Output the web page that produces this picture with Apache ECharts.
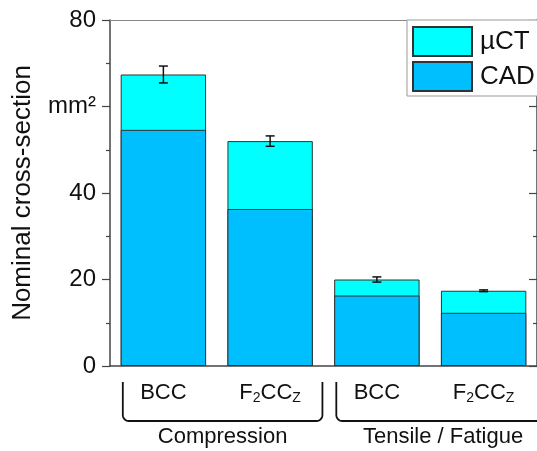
<!DOCTYPE html>
<html>
<head>
<meta charset="utf-8">
<script src="https://cdn.jsdelivr.net/npm/echarts@6/dist/echarts.min.js"></script>
<style>
  html, body { margin: 0; padding: 0; background: #fff; }
  #chart { width: 537px; height: 451px; }
</style>
</head>
<body>
<div id="chart"></div>
<script>
// Lattice types (x categories) and test groups
const categories = ['BCC', 'F2CCZ', 'BCC', 'F2CCZ'];
const groups = ['Compression', 'Tensile / Fatigue'];
// Nominal cross-section, mm²
const cadValues = [54.6, 36.3, 16.3, 12.3];
const uctValues = [67.4, 52.0, 20.0, 17.4];
const uctErrors = [1.95, 1.2, 0.6, 0.2];
// y ticks: the 60 position carries the unit
const yTicks = [0, 20, 40, 60, 80];
const yTickText = ['0', '20', '40', 'mm²', '80'];

const FONT = '"Liberation Sans", Arial, sans-serif';
const AXIS = '#444';

const chart = echarts.init(document.getElementById('chart'));

function catLabel(v) {
  if (v === 'F2CCZ') return '{n|F}{s|2}{n|CC}{s|Z}';
  return '{n|' + v + '}';
}

const labelRich = {
  n: { fontSize: 22, fontFamily: FONT, color: '#111', lineHeight: 26 },
  s: { fontSize: 14, fontFamily: FONT, color: '#111', lineHeight: 26, padding: [10, 0, 0, 0] }
};

const option = {
  animation: false,
  backgroundColor: '#fff',
  grid: { left: 110, top: 20, right: -4, bottom: 85, containLabel: false },
  legend: {
    orient: 'vertical',
    left: 407,
    top: 20,
    data: ['µCT', 'CAD'],
    icon: 'rect',
    itemWidth: 59,
    itemHeight: 29,
    itemGap: 4,
    padding: [6, 20, 4, 5],
    backgroundColor: '#fff',
    borderColor: '#999',
    borderWidth: 1,
    borderRadius: 0,
    textStyle: { fontSize: 26, fontFamily: FONT, color: '#111', padding: [0, 0, 0, 3] }
  },
  xAxis: [
    {
      type: 'category', data: categories, position: 'bottom',
      axisLine: { lineStyle: { color: AXIS, width: 1.5 } },
      axisTick: { alignWithLabel: true, length: 6, lineStyle: { color: AXIS, width: 1.2 } },
      axisLabel: { margin: 14, interval: 0, hideOverlap: false, formatter: catLabel, rich: labelRich },
      splitLine: { show: false }
    },
    {
      type: 'category', data: categories, position: 'bottom',
      axisLine: { show: false },
      axisTick: { length: 4, lineStyle: { color: AXIS, width: 1.2 } },
      axisLabel: { show: false }
    },
    {
      type: 'category', data: categories, position: 'top',
      axisLine: { lineStyle: { color: '#888', width: 1.2 } },
      axisTick: { alignWithLabel: true, inside: true, length: 6, lineStyle: { color: AXIS, width: 1.2 } },
      axisLabel: { show: false }
    }
  ],
  yAxis: [
    {
      type: 'value', min: 0, max: 80, interval: 20, position: 'left',
      name: 'Nominal cross-section', nameLocation: 'middle', nameGap: 74,
      nameTextStyle: { fontSize: 26, fontFamily: FONT, color: '#111' },
      axisLine: { show: true, lineStyle: { color: AXIS, width: 1.5 } },
      axisTick: { show: true, length: 8, lineStyle: { color: AXIS, width: 1.2 } },
      minorTick: { show: true, splitNumber: 2, length: 4, lineStyle: { color: AXIS, width: 1.2 } },
      axisLabel: {
        margin: 14, fontSize: 24, fontFamily: FONT, color: '#111',
        formatter: v => yTickText[yTicks.indexOf(v)] ?? String(v)
      },
      splitLine: { show: false }
    },
    {
      type: 'value', min: 0, max: 80, interval: 20, position: 'right',
      axisLine: { show: true, lineStyle: { color: AXIS, width: 1.5 } },
      axisTick: { show: true, inside: true, length: 8, lineStyle: { color: AXIS, width: 1.2 } },
      minorTick: { show: true, splitNumber: 2, length: 4, lineStyle: { color: AXIS, width: 1.2 } },
      axisLabel: { show: false },
      splitLine: { show: false }
    }
  ],
  series: [
    {
      name: 'µCT', type: 'bar', data: uctValues, barWidth: '80%',
      itemStyle: { color: '#00FFFF', borderColor: '#333', borderWidth: 1 },
      z: 2
    },
    {
      name: 'CAD', type: 'bar', data: cadValues, barWidth: '80%', barGap: '-100%',
      itemStyle: { color: '#00BFFF', borderColor: '#333', borderWidth: 1 },
      z: 3
    },
    {
      name: 'error', type: 'custom', z: 5,
      data: uctValues.map((v, i) => [i, v - uctErrors[i], v + uctErrors[i]]),
      renderItem: function (params, api) {
        const lo = api.coord([api.value(0), api.value(1)]);
        const hi = api.coord([api.value(0), api.value(2)]);
        const w = 4.5;
        const style = { stroke: '#111', lineWidth: 1.5 };
        return {
          type: 'group',
          children: [
            { type: 'line', shape: { x1: hi[0], y1: hi[1], x2: lo[0], y2: lo[1] }, style },
            { type: 'line', shape: { x1: hi[0] - w, y1: hi[1], x2: hi[0] + w, y2: hi[1] }, style },
            { type: 'line', shape: { x1: lo[0] - w, y1: lo[1], x2: lo[0] + w, y2: lo[1] }, style }
          ]
        };
      }
    }
  ]
};

chart.setOption(option);

// Group brackets under the category labels, placed from the axis positions
const cx = i => chart.convertToPixel({ xAxisIndex: 0 }, i);
const band = cx(1) - cx(0);
const y0 = chart.convertToPixel({ yAxisIndex: 0 }, 0);
const bTop = y0 + 16, bBot = y0 + 55, r = 6;

function bracketPoints(l, rt) {
  const pts = [[l, bTop]];
  for (let k = 0; k <= 8; k++) {
    const a = Math.PI / 2 * k / 8;
    pts.push([l + r - r * Math.cos(a), bBot - r + r * Math.sin(a)]);
  }
  for (let k = 0; k <= 8; k++) {
    const a = Math.PI / 2 * k / 8;
    pts.push([rt - r + r * Math.sin(a), bBot - r + r * Math.cos(a)]);
  }
  pts.push([rt, bTop]);
  return pts;
}

const spans = [
  [cx(0) - 0.38 * band, cx(1) + 0.49 * band],
  [cx(2) - 0.38 * band, cx(3) + 0.62 * band]
];
const graphics = [];
spans.forEach(([l, rt], gi) => {
  graphics.push({
    type: 'polyline',
    shape: { points: bracketPoints(l, rt) },
    style: { fill: null, stroke: '#111', lineWidth: 1.8 },
    silent: true
  });
  graphics.push({
    type: 'text',
    x: (l + rt) / 2, y: y0 + 71,
    style: {
      text: groups[gi], fontSize: 22, fontFamily: FONT, fill: '#111',
      align: 'center', verticalAlign: 'middle'
    },
    silent: true
  });
});
chart.setOption({ graphic: graphics });
</script>
</body>
</html>
